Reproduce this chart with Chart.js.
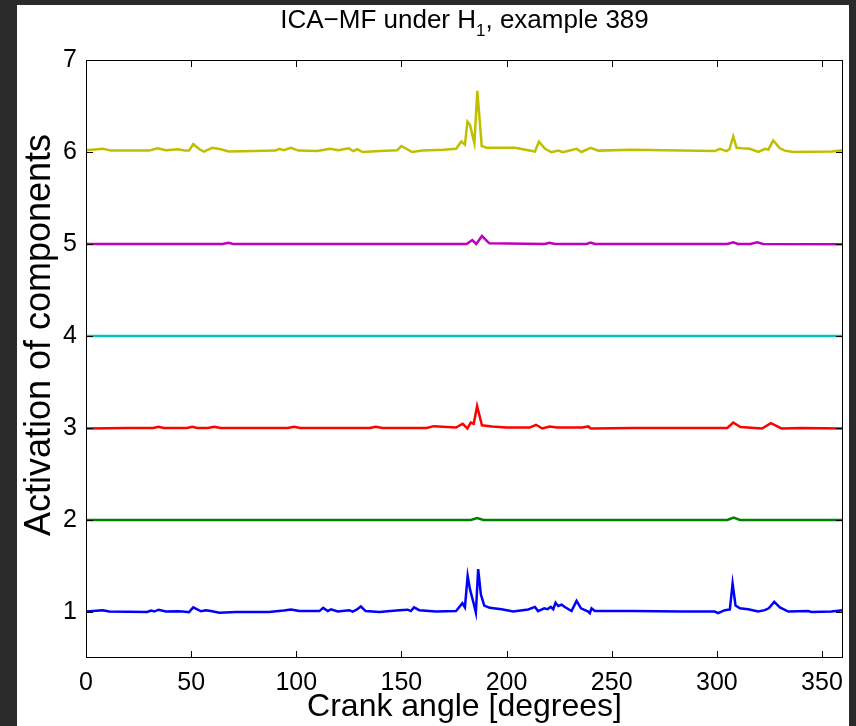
<!DOCTYPE html>
<html>
<head>
<meta charset="utf-8">
<script src="https://cdn.jsdelivr.net/npm/chart.js@4.4.1/dist/chart.umd.min.js"></script>
<style>
  html, body { margin: 0; padding: 0; background: #2b2b2b; }
  #frame { position: absolute; left: 17px; top: 5px; width: 832px; height: 721px; background: #fff; }
  canvas { display: block; }
</style>
</head>
<body>
<div id="frame"><canvas id="chart" width="832" height="721"></canvas></div>
<script>
const FONT = '"Liberation Sans", Arial, Helvetica, sans-serif';

const titleMain = 'ICA\u2212MF under H';
const titleSub = '1';
const titleRest = ', example 389';
const xTitle = 'Crank angle [degrees]';
const yTitle = 'Activation of components';

const xTicks = [0, 50, 100, 150, 200, 250, 300, 350];
const yTicks = [1, 2, 3, 4, 5, 6, 7];

// component 1 (blue)
const blueAngle = [0, 8, 11, 29, 31, 32.5, 34.5, 38, 43.6, 46, 49, 51, 54.7, 57, 59.4, 63.4, 71.3, 87, 94, 97.5,
  101.4, 111, 112.8, 115, 116.5, 119.7, 125.2, 126.8, 128.7, 130.7, 133, 139.5, 149, 153, 154.5, 156, 158.5,
  166.4, 176, 179, 180.2, 181.5, 182.6, 184.6, 185.4, 186.5, 187.8, 189.4, 192, 197.6, 203.2, 210.3, 213.5,
  215, 217.9, 219.5, 221, 222.2, 223.3, 224.6, 226.2, 227.7, 230.9, 233.3, 235.4, 238.8, 239.6, 240.4, 242,
  259.4, 283.2, 299, 300.6, 303.8, 306.2, 307.5, 308.9, 311, 314.9, 319.7, 322.8, 324.7, 327.3, 330, 334,
  343.4, 345, 354.5, 360];
const blueAct = [1.005, 1.02, 1.005, 1.0, 1.015, 1.005, 1.025, 1.005, 1.008, 1.005, 0.998, 1.05, 1.008, 1.02, 1.01,
  0.993, 1.0, 1.0, 1.017, 1.028, 1.01, 1.01, 1.045, 1.01, 1.028, 1.005, 1.02, 1.005, 1.025, 1.06, 1.01, 1.0,
  1.02, 1.025, 1.01, 1.05, 1.02, 1.005, 1.01, 1.095, 1.05, 1.393, 1.248, 1.07, 0.994, 1.466, 1.19, 1.07, 1.045,
  1.03, 1.005, 1.028, 1.055, 1.01, 1.04, 1.03, 1.055, 1.03, 1.10, 1.065, 1.08, 1.055, 1.01, 1.12, 1.04, 1.005,
  0.987, 1.04, 1.01, 1.01, 1.005, 1.005, 0.987, 1.02, 1.028, 1.309, 1.07, 1.04, 1.03, 1.005, 1.02, 1.04, 1.11,
  1.05, 1.005, 1.01, 1.0, 1.005, 1.02];

// component 2 (green)
const greenAngle = [0, 120, 183, 186, 189, 250, 305, 308, 311, 360];
const greenAct = [2.0, 2.0, 2.0, 2.02, 2.0, 2.0, 2.0, 2.025, 2.0, 2.0];

// component 3 (red)
const redAngle = [0, 20, 32, 34.5, 37, 48, 50.5, 53, 58, 60.9, 64, 80, 96, 98.8, 102, 120, 135, 137.8, 141,
  150, 162, 165.4, 176, 179.1, 181.4, 183, 184.4, 186, 188.3, 193, 200, 211, 214, 217, 220.5, 224, 236,
  238.9, 240, 260, 275.6, 295, 305, 307.8, 311.2, 321.5, 325.7, 330.7, 340, 360];
const redAct = [2.995, 3.0, 3.0, 3.013, 3.0, 3.0, 3.013, 3.0, 3.0, 3.013, 3.0, 3.0, 3.0, 3.013, 3.0, 3.0, 3.0,
  3.013, 3.0, 3.0, 3.0, 3.02, 3.005, 3.046, 2.995, 3.06, 3.046, 3.238, 3.03, 3.017, 3.005, 3.005, 3.035, 2.995,
  3.017, 3.005, 3.005, 3.017, 2.995, 3.0, 3.0, 3.0, 3.0, 3.06, 3.01, 2.995, 3.053, 2.995, 3.0, 2.995];

// component 4 (cyan)
const cyanAngle = [0, 360];
const cyanAct = [4.0, 4.0];

// component 5 (magenta)
const magentaAngle = [0, 65, 67.8, 70, 181, 183.7, 185.6, 188.3, 191.8, 218, 220.5, 223, 238, 240, 242, 305,
  307.8, 310, 316, 319.2, 322, 360];
const magentaAct = [5.0, 5.0, 5.012, 5.0, 5.0, 5.043, 5.0, 5.087, 5.007, 5.0, 5.014, 5.0, 5.0, 5.015, 5.0, 5.0,
  5.018, 5.0, 5.0, 5.018, 5.0, 4.997];

// component 6 (yellow)
const yellowAngle = [0, 8, 12, 30, 34, 38, 44, 47, 49, 51, 54, 56, 60, 64, 68, 80, 90, 92, 94, 97.5, 101, 110,
  116, 120, 125, 127, 129, 131.5, 140, 148, 150, 155, 160, 170, 176, 178.5, 180.2, 181.4, 182.6, 184.7, 186.1,
  188.2, 190.5, 204, 213.5, 215.4, 218.3, 221.4, 224.5, 226.8, 233.3, 235.6, 240, 243.6, 259.5, 275.3, 299,
  301.5, 304.6, 306, 307.8, 309.4, 311.8, 315.7, 319.7, 322.9, 324.5, 326.8, 330, 332.3, 336.3, 354.6, 360];
const yellowAct = [6.02, 6.035, 6.015, 6.015, 6.04, 6.02, 6.03, 6.015, 6.015, 6.085, 6.03, 6.005, 6.045, 6.03,
  6.005, 6.01, 6.015, 6.035, 6.02, 6.045, 6.015, 6.01, 6.035, 6.02, 6.04, 6.01, 6.03, 6.0, 6.01, 6.02, 6.065,
  6.0, 6.015, 6.025, 6.035, 6.115, 6.08, 6.33, 6.295, 6.095, 6.665, 6.065, 6.045, 6.045, 6.005, 6.113, 6.035,
  5.997, 6.015, 5.997, 6.035, 6.0, 6.045, 6.015, 6.025, 6.02, 6.01, 6.035, 6.01, 6.03, 6.17, 6.045, 6.04,
  6.035, 6.0, 6.035, 6.025, 6.125, 6.04, 6.015, 6.0, 6.005, 6.02];

const toPoints = (angles, values) => angles.map((a, i) => ({ x: a, y: values[i] }));

function series(angles, values, color) {
  return {
    data: toPoints(angles, values),
    borderColor: color,
    borderWidth: 2.5,
    pointRadius: 0,
    tension: 0,
    fill: false
  };
}

// MATLAB style box with inward ticks on all four sides
const boxTicks = {
  id: 'boxTicks',
  afterDatasetsDraw(chart) {
    const { ctx, chartArea: a, scales: { x, y } } = chart;
    const len = 7;
    ctx.save();
    ctx.strokeStyle = '#000';
    ctx.lineWidth = 1;
    ctx.beginPath();
    xTicks.forEach(v => {
      const px = Math.round(x.getPixelForValue(v)) + 0.5;
      ctx.moveTo(px, a.bottom); ctx.lineTo(px, a.bottom - len);
      ctx.moveTo(px, a.top); ctx.lineTo(px, a.top + len);
    });
    yTicks.forEach(v => {
      const py = Math.round(y.getPixelForValue(v)) + 0.5;
      ctx.moveTo(a.left, py); ctx.lineTo(a.left + len, py);
      ctx.moveTo(a.right, py); ctx.lineTo(a.right - len, py);
    });
    ctx.stroke();
    ctx.strokeRect(Math.round(a.left) + 0.5, Math.round(a.top) + 0.5,
      Math.round(a.width) - 1, Math.round(a.height) - 1);
    ctx.restore();
  }
};

// title with a subscript (H_1) and the y label, placed as in the MATLAB figure
const figureText = {
  id: 'figureText',
  afterDraw(chart) {
    const { ctx, chartArea: a } = chart;
    const mainFont = '26px ' + FONT;
    const subFont = '17px ' + FONT;
    ctx.save();
    ctx.fillStyle = '#000';
    ctx.textBaseline = 'alphabetic';
    ctx.font = mainFont;
    const w1 = ctx.measureText(titleMain).width;
    const w3 = ctx.measureText(titleRest).width;
    ctx.font = subFont;
    const w2 = ctx.measureText(titleSub).width;
    const x0 = (a.left + a.right) / 2 - (w1 + w2 + w3) / 2;
    const base = 23;
    ctx.font = mainFont;
    ctx.fillText(titleMain, x0, base);
    ctx.font = subFont;
    ctx.fillText(titleSub, x0 + w1, base + 8);
    ctx.font = mainFont;
    ctx.fillText(titleRest, x0 + w1 + w2, base);

    ctx.translate(23, 330);
    ctx.rotate(-Math.PI / 2);
    ctx.font = '36px ' + FONT;
    ctx.textAlign = 'center';
    ctx.textBaseline = 'middle';
    ctx.fillText(yTitle, 0, 0);
    ctx.restore();
  }
};

new Chart(document.getElementById('chart'), {
  type: 'line',
  data: {
    datasets: [
      series(blueAngle, blueAct, '#0000ff'),
      series(greenAngle, greenAct, '#008000'),
      series(redAngle, redAct, '#ff0000'),
      series(cyanAngle, cyanAct, '#00bfbf'),
      series(magentaAngle, magentaAct, '#bf00bf'),
      series(yellowAngle, yellowAct, '#bfbf00')
    ]
  },
  options: {
    responsive: false,
    animation: false,
    layout: { padding: { top: 55, right: 6, left: 0, bottom: 0 } },
    plugins: {
      legend: { display: false },
      tooltip: { enabled: false },
      title: { display: false }
    },
    scales: {
      x: {
        type: 'linear',
        min: 0,
        max: 360,
        grid: { display: false, drawTicks: false },
        border: { display: false },
        afterBuildTicks: s => { s.ticks = xTicks.map(v => ({ value: v })); },
        afterFit: s => { s.height = 68; s.paddingLeft = 0; s.paddingRight = 0; },
        ticks: { color: '#000', padding: 10, maxRotation: 0, font: { family: FONT, size: 25 } },
        title: { display: true, text: xTitle, color: '#000', padding: { top: 0, bottom: 0 },
          font: { family: FONT, size: 32 } }
      },
      y: {
        type: 'linear',
        min: 0.5,
        max: 7,
        grid: { display: false, drawTicks: false },
        border: { display: false },
        afterBuildTicks: s => { s.ticks = yTicks.map(v => ({ value: v })); },
        afterFit: s => { s.width = 69; },
        ticks: { color: '#000', padding: 9, font: { family: FONT, size: 25 } }
      }
    }
  },
  plugins: [boxTicks, figureText]
});
</script>
</body>
</html>
